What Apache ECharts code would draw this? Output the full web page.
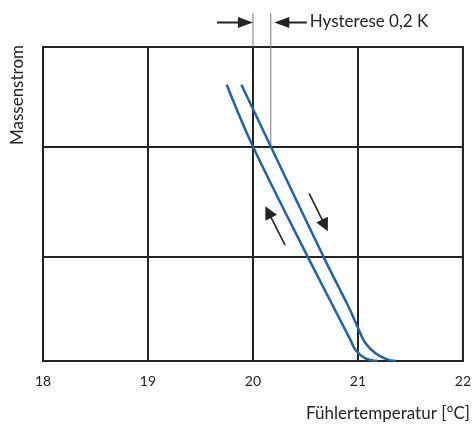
<!DOCTYPE html>
<html>
<head>
<meta charset="utf-8">
<script src="https://cdn.jsdelivr.net/npm/echarts@6/dist/echarts.min.js"></script>
<style>
html,body{margin:0;padding:0;background:#ffffff;}
#c{width:474px;height:427px;}
</style>
</head>
<body>
<div id="c"></div>
<script>
// ---- data ----
const xTicks = [18, 19, 20, 21, 22];
const yGridLines = [1.0, 2.05];
// falling temperature branch (left curve)
const leftX = [19.75, 20.0, 20.52, 20.93, 20.977, 21.07, 21.19];
const leftY = [2.64, 2.05, 1.0, 0.2, 0.105, 0.026, 0];
// rising temperature branch (right curve)
const rightX = [19.89, 20.17, 20.67, 20.91, 20.995, 21.073, 21.167, 21.278, 21.36];
const rightY = [2.64, 2.05, 1.0, 0.52, 0.33, 0.169, 0.074, 0.016, 0];
// hysteresis marks (curves at the upper grid line)
const hystMarks = [20.0, 20.17];
// direction arrows [tail, head]
const arrowUp = [[20.306, 1.108], [20.146, 1.424]];
const arrowDown = [[20.535, 1.602], [20.686, 1.296]];
const xName = 'Fühlertemperatur [°C]';
const yName = 'Massenstrom';
const hystText = 'Hysterese 0,2 K';

const INK = '#262324';
const BLUE = '#1f63ae';
const FONT = 'Lato';

const zip = (a, b) => a.map((v, i) => [v, b[i]]);

const chart = echarts.init(document.getElementById('c'), null, {renderer: 'canvas'});
const option = {
  animation: false,
  textStyle: {fontFamily: FONT},
  grid: {left: 43, right: 11, top: 47, bottom: 66, show: true, borderColor: INK, borderWidth: 2, backgroundColor: 'transparent'},
  xAxis: {
    type: 'value', min: xTicks[0], max: xTicks[xTicks.length - 1], interval: 1,
    axisLine: {show: true, lineStyle: {color: INK, width: 2}},
    axisTick: {show: false},
    axisLabel: {color: INK, fontSize: 14, fontFamily: FONT, margin: 13},
    splitLine: {show: true, lineStyle: {color: INK, width: 2}}
  },
  yAxis: {
    type: 'value', min: 0, max: 3,
    axisLine: {show: false}, axisTick: {show: false}, axisLabel: {show: false},
    splitLine: {show: false}
  },
  series: [
    {
      type: 'line', data: zip(leftX, leftY), showSymbol: false, smooth: 0.35,
      lineStyle: {color: BLUE, width: 2.5}, z: 5, silent: true,
      markLine: {
        silent: true, symbol: ['none', 'none'], label: {show: false},
        lineStyle: {color: INK, width: 2, type: 'solid'},
        emphasis: {disabled: true},
        data: yGridLines.map(v => ({yAxis: v}))
      }
    },
    {
      type: 'line', data: zip(rightX, rightY), showSymbol: false, smooth: 0.35,
      lineStyle: {color: BLUE, width: 2.5}, z: 5, silent: true,
      markLine: {
        silent: true, symbol: ['none', 'triangle'], symbolSize: 13, label: {show: false},
        lineStyle: {color: INK, width: 1.6, type: 'solid'},
        itemStyle: {color: INK},
        emphasis: {disabled: true},
        data: [
          [{coord: arrowUp[0]}, {coord: arrowUp[1]}],
          [{coord: arrowDown[0]}, {coord: arrowDown[1]}]
        ]
      }
    }
  ]
};
chart.setOption(option);

const px = v => chart.convertToPixel({xAxisIndex: 0}, v);
const py = v => chart.convertToPixel({yAxisIndex: 0}, v);
const p0 = px(hystMarks[0]);
const p1 = px(hystMarks[1]);
const gTop = py(3);
const yH = py(yGridLines[1]);
const ay = 22.5;
const GRAY = '#7d7d7d';

chart.setOption({
  graphic: [
    {type: 'line', silent: true, shape: {x1: p0, y1: 13, x2: p0, y2: gTop}, style: {stroke: GRAY, lineWidth: 1}},
    {type: 'line', silent: true, shape: {x1: p1, y1: 13, x2: p1, y2: yH}, style: {stroke: GRAY, lineWidth: 1}, z: 1},
    // right-pointing arrow
    {type: 'line', silent: true, shape: {x1: p0 - 36, y1: ay, x2: p0 - 14, y2: ay}, style: {stroke: INK, lineWidth: 2}},
    {type: 'polygon', silent: true, shape: {points: [[p0 - 15, ay - 5.5], [p0, ay], [p0 - 15, ay + 5.5]]}, style: {fill: INK}},
    // left-pointing arrow
    {type: 'polygon', silent: true, shape: {points: [[p1 + 18.5, ay - 5.5], [p1 + 3.5, ay], [p1 + 18.5, ay + 5.5]]}, style: {fill: INK}},
    {type: 'line', silent: true, shape: {x1: p1 + 17, y1: ay, x2: p1 + 36, y2: ay}, style: {stroke: INK, lineWidth: 2}},
    {type: 'text', silent: true, x: p1 + 39, y: ay - 1, style: {text: hystText, fontSize: 17, fontFamily: FONT, fill: INK, align: 'left', verticalAlign: 'middle'}},
    {type: 'text', silent: true, x: 470, y: 414, style: {text: xName, fontSize: 17, fontFamily: FONT, fill: INK, align: 'right', verticalAlign: 'middle'}},
    {type: 'text', silent: true, x: 18, y: 95, rotation: Math.PI / 2, style: {text: yName, fontSize: 17, fontFamily: FONT, fill: INK, align: 'center', verticalAlign: 'middle'}}
  ]
});
</script>
</body>
</html>
